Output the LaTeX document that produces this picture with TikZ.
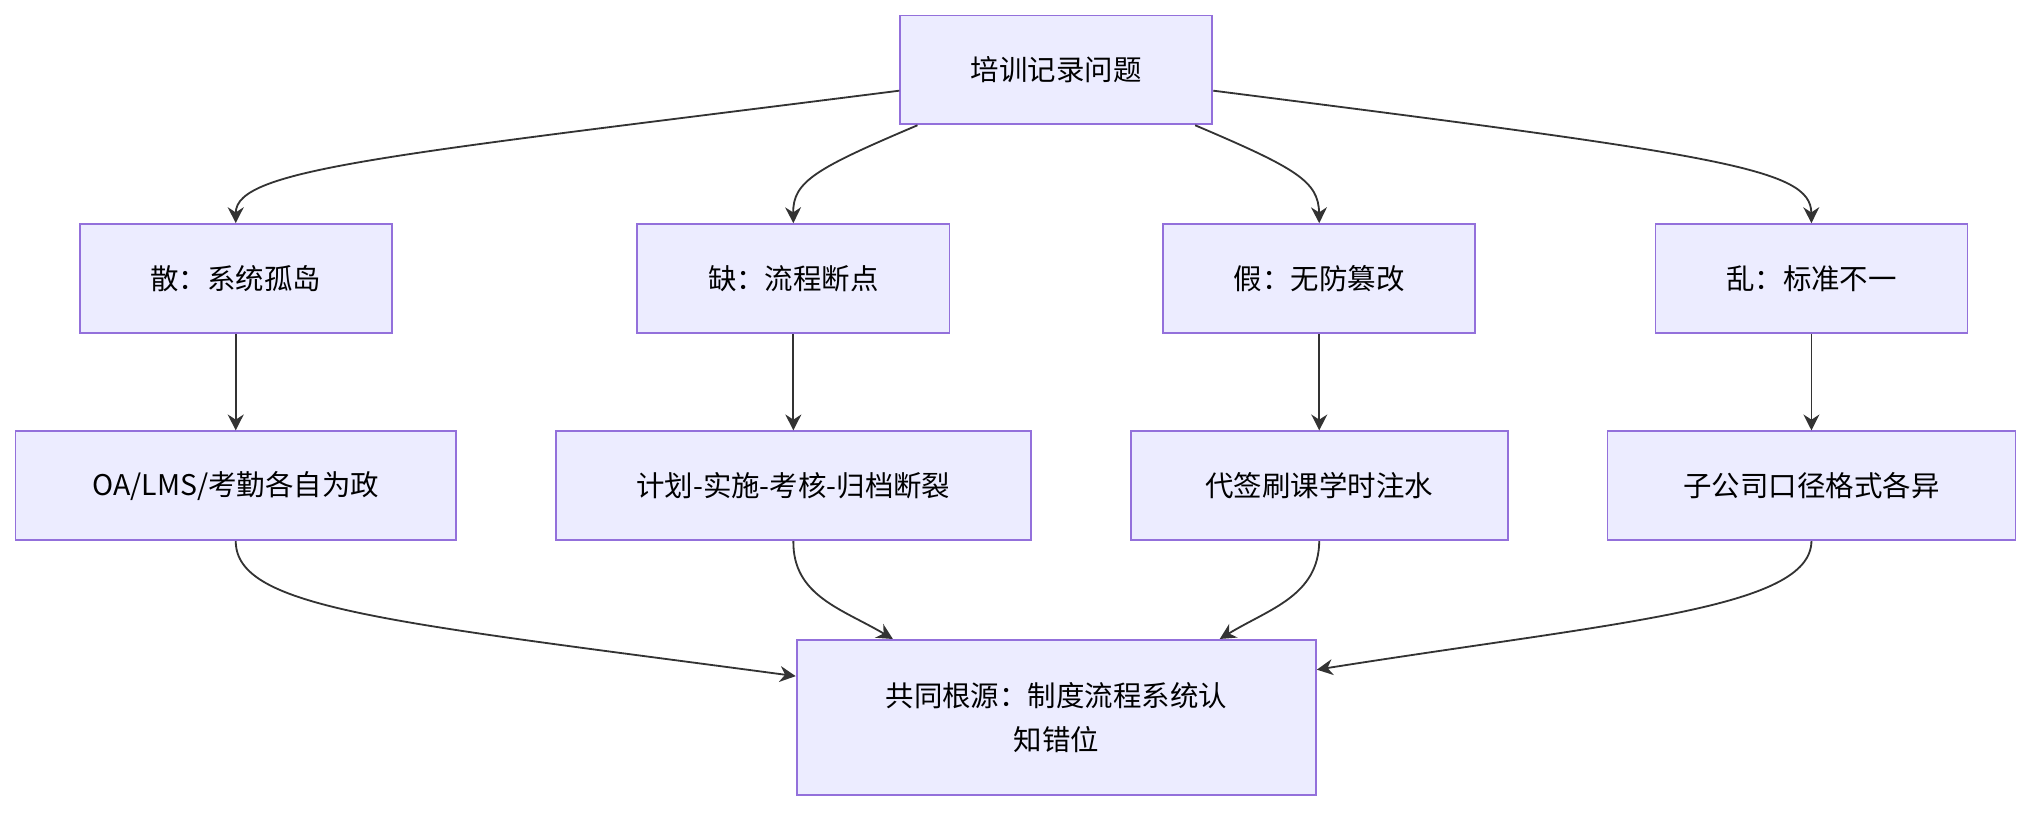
\documentclass[tikz,border=0pt]{standalone}
\usepackage{fontspec}
\setmainfont{Noto Sans CJK SC}
\usetikzlibrary{calc,arrows.meta}
\definecolor{boxfill}{HTML}{ECECFF}
\definecolor{boxline}{HTML}{9370DB}
\definecolor{linkcol}{HTML}{333333}
\tikzset{
  box/.style={draw=boxline,fill=boxfill,line width=0.8pt,align=center,
    font=\fontsize{12.5}{19}\selectfont,minimum height=1.68cm,inner sep=0pt},
  link/.style={draw=linkcol,line width=0.8pt,-{Stealth[length=7pt,width=7pt]}}
}
\begin{document}
\begin{tikzpicture}[x=0.02cm,y=-0.02cm]
\useasboundingbox (0,0) rectangle (1568,627);
% nodes
\node[box,minimum width=4.82cm] (root) at (815.5,54) {培训记录问题};
\node[box,minimum width=4.82cm] (san) at (182,215) {散：系统孤岛};
\node[box,minimum width=4.82cm] (que) at (612.5,215) {缺：流程断点};
\node[box,minimum width=4.82cm] (jia) at (1018.5,215) {假：无防篡改};
\node[box,minimum width=4.82cm] (luan) at (1398.5,215) {乱：标准不一};
\node[box,minimum width=6.8cm] (oa) at (182,375) {OA/LMS/考勤各自为政};
\node[box,minimum width=7.34cm] (plan) at (612.5,375) {计划-实施-考核-归档断裂};
\node[box,minimum width=5.82cm] (fake) at (1018.5,375) {代签刷课学时注水};
\node[box,minimum width=6.3cm] (sub) at (1398.5,375) {子公司口径格式各异};
\node[box,minimum width=8.02cm,minimum height=2.4cm] (cause) at (815.5,554) {共同根源：制度流程系统认\\知错位};

% top to problems
\draw[link] ($(root.west)+(0,16)$) .. controls (300,120) and (182,130) .. (san.north);
\draw[link] ($(root.south west)+(14,0)$) .. controls (630,130) and (612,140) .. (que.north);
\draw[link] ($(root.south east)+(-14,0)$) .. controls (1001,130) and (1018,140) .. (jia.north);
\draw[link] ($(root.east)+(0,16)$) .. controls (1330,120) and (1398,130) .. (luan.north);

% problems to details
\draw[link] (san) -- (oa);
\draw[link] (que) -- (plan);
\draw[link] (jia) -- (fake);
\draw[link] (luan) -- (sub);

% details to root cause
\draw[link] (oa.south) .. controls (182,470) and (300,480) .. ($(cause.west)+(0,-32)$);
\draw[link] (plan.south) .. controls (612,460) and (650,470) .. ($(cause.north west)+(75,0)$);
\draw[link] (fake.south) .. controls (1018,460) and (980,470) .. ($(cause.north east)+(-75,0)$);
\draw[link] (sub.south) .. controls (1398,470) and (1250,480) .. ($(cause.east)+(0,-37)$);
\end{tikzpicture}
\end{document}
